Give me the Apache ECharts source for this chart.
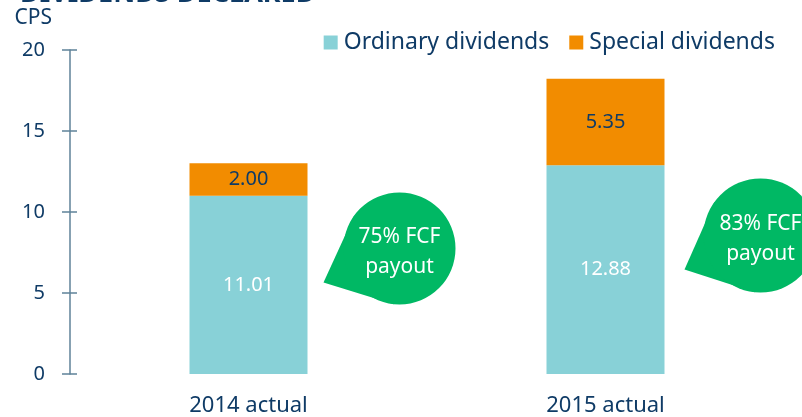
<!DOCTYPE html>
<html>
<head>
<meta charset="utf-8" />
<title>Dividends declared</title>
<style>
  html, body { margin: 0; padding: 0; background: #fff; }
  #chart { width: 802px; height: 417px; }
</style>
<script src="https://cdn.jsdelivr.net/npm/echarts@6/dist/echarts.min.js"></script>
</head>
<body>
<div id="chart"></div>
<script>
var categories = ['2014 actual', '2015 actual'];
var ordinary = [11.01, 12.88];
var special = [2.00, 5.35];
var yTicks = [0, 5, 10, 15, 20];
// payout bubbles: text and the value height they sit at
var payoutText = ['75% FCF\npayout', '83% FCF\npayout'];
var payoutLevel = [7.75, 8.55];

var navy = '#0f3b66';
var green = '#00b864';
var font = 'Noto Sans';

var myChart = echarts.init(document.getElementById('chart'));

var option = {
  animation: false,
  textStyle: { fontFamily: font },
  grid: { left: 70, right: 18, top: 50, bottom: 42 },
  legend: {
    data: ['Ordinary dividends', 'Special dividends'],
    right: 22, top: 26,
    itemWidth: 14, itemHeight: 14, itemGap: 20,
    icon: 'rect',
    textStyle: { color: navy, fontSize: 23, fontFamily: font, padding: [0, 0, 0, 1] }
  },
  xAxis: {
    type: 'category',
    data: categories,
    axisLine: { show: false },
    axisTick: { show: false },
    axisLabel: { color: navy, fontSize: 22, margin: 21, fontFamily: font }
  },
  yAxis: [{
    type: 'value',
    min: yTicks[0], max: yTicks[yTicks.length - 1], interval: 5,
    name: 'CPS',
    nameGap: 21,
    nameTextStyle: { color: navy, fontSize: 21, align: 'right', padding: [0, 18, 0, 0], fontFamily: font },
    axisLine: { show: true, lineStyle: { color: '#5f8299', width: 1.5 } },
    axisTick: { show: true, length: 8, lineStyle: { color: '#5f8299', width: 1.5 } },
    axisLabel: { color: navy, fontSize: 20, margin: 25, fontFamily: font },
    splitLine: { show: false }
  }, {
    type: 'value',
    position: 'left',
    min: yTicks[0], max: yTicks[yTicks.length - 1], interval: 5,
    axisLine: { show: false },
    axisTick: { show: true, inside: true, length: 7, lineStyle: { color: '#5f8299', width: 1.5 } },
    axisLabel: { show: false },
    splitLine: { show: false }
  }],
  series: [{
    name: 'Ordinary dividends',
    type: 'bar',
    stack: 'div',
    barWidth: 118,
    data: ordinary,
    itemStyle: { color: '#88d1d7' },
    label: {
      show: true, position: 'inside', color: '#fff', fontSize: 20, fontFamily: font,
      formatter: function (p) { return p.value.toFixed(2); }
    }
  }, {
    name: 'Special dividends',
    type: 'bar',
    stack: 'div',
    barWidth: 118,
    data: special,
    itemStyle: { color: '#f28c00' },
    label: {
      show: true, position: 'inside', color: navy, fontSize: 20, fontFamily: font,
      formatter: function (p) { return p.value.toFixed(2); }
    }
  }]
};
myChart.setOption(option);

// title (cut off at the top edge) and payout bubbles placed from the axes
var graphics = [{
  type: 'text', x: 20, y: 8,
  style: { text: 'DIVIDENDS DECLARED', fill: navy, font: 'bold 27px "Noto Sans"', verticalAlign: 'bottom' }
}];
var bubbleDx = [151, 155];
var bubbleR = [56, 57];
for (var i = 0; i < categories.length; i++) {
  var p = myChart.convertToPixel({ xAxisIndex: 0, yAxisIndex: 0 }, [i, payoutLevel[i]]);
  var cx = p[0] + bubbleDx[i], cy = p[1], r = bubbleR[i];
  var tip = [cx - 76, cy + 34];
  var ang = Math.atan2(tip[1] - cy, tip[0] - cx);
  var a1 = ang - 1.05, a2 = ang + 1.05;
  graphics.push({
    type: 'polygon',
    shape: { points: [tip, [cx + r * Math.cos(a1), cy + r * Math.sin(a1)], [cx, cy], [cx + r * Math.cos(a2), cy + r * Math.sin(a2)]] },
    style: { fill: green }
  });
  graphics.push({ type: 'circle', shape: { cx: cx, cy: cy, r: r }, style: { fill: green } });
  graphics.push({
    type: 'text', x: cx, y: cy + 4,
    style: { text: payoutText[i], fill: '#fff', font: '21px "Noto Sans"', align: 'center', verticalAlign: 'middle', lineHeight: 30 }
  });
}
myChart.setOption({ graphic: graphics });
</script>
</body>
</html>
